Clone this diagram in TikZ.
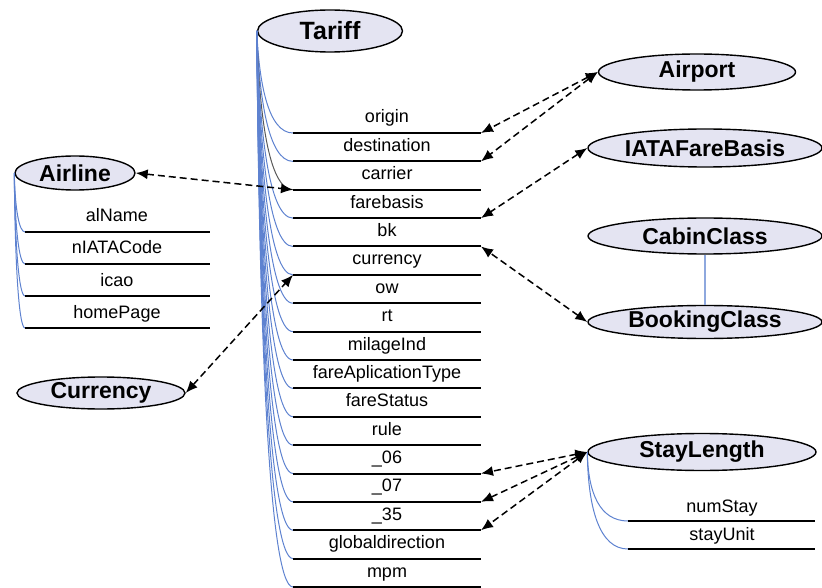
\documentclass[tikz,border=0pt]{standalone}
\usepackage{fontspec}
\setmainfont{Liberation Sans}
\usetikzlibrary{arrows.meta,shapes.geometric}
\definecolor{ellfill}{HTML}{E4E4F2}
\definecolor{treeblue}{HTML}{5E82D0}
\begin{document}
\begin{tikzpicture}[x=1pt,y=-1pt,
  cls/.style={ellipse, draw=black, line width=1.4pt, fill=ellfill, inner sep=0pt, font=\bfseries\fontsize{23}{25}\selectfont},
  attr/.style={font=\fontsize{18}{20}\selectfont, inner sep=0pt, anchor=base},
  attrline/.style={line width=2pt, draw=black},
  tree/.style={draw=treeblue, line width=1pt},
  assoc/.style={line width=1.5pt, dash pattern=on 7pt off 4pt, {Latex[length=12pt,width=10pt]}-{Latex[length=12pt,width=10pt]}}
]
\useasboundingbox (0,0) rectangle (822,588);

% Tariff
\node[cls, minimum width=145pt, minimum height=42pt, font=\bfseries\fontsize{25}{27}\selectfont] (tariff) at (330,31) {Tariff};
\foreach \n [count=\i from 0] in {origin,destination,carrier,farebasis,bk,currency,ow,rt,milageInd,fareAplicationType,fareStatus,rule,\_06,\_07,\_35,globaldirection,mpm} {
  \pgfmathsetmacro\yy{133+28.375*\i}
  \pgfmathsetmacro\cy{31+0.5*(\yy-31)}
  \coordinate (tl\i) at (293,\yy);
  \coordinate (tr\i) at (481,\yy);
  \ifnum\i=2
    \draw[tree, draw=gray!70!black] (tariff.west) .. controls (259,\cy) and (268,\yy) .. (tl\i);
  \else
    \draw[tree] (tariff.west) .. controls (259,\cy) and (268,\yy) .. (tl\i);
  \fi
  \draw[attrline] (tl\i) -- (tr\i);
  \node[attr] (ta\i) at (387,\yy-10) {\n};
}

% Airline
\node[cls, minimum width=120pt, minimum height=34pt] (airline) at (75,173) {Airline};
\foreach \n [count=\i from 0] in {alName,nIATACode,icao,homePage} {
  \pgfmathsetmacro\yy{232+32*\i}
  \pgfmathsetmacro\cy{173+0.6*(\yy-173)}
  \coordinate (al\i) at (25,\yy);
  \coordinate (ar\i) at (210,\yy);
  \draw[tree] (airline.west) .. controls (15,\cy) and (19,\yy) .. (al\i);
  \draw[attrline] (al\i) -- (ar\i);
  \node[attr] (aa\i) at (117,\yy-10) {\n};
}

% Currency
\node[cls, minimum width=168pt, minimum height=32pt] (currency) at (101,393) {Currency};

% Right-hand classes
\node[cls, minimum width=197pt, minimum height=36pt] (airport) at (697,72) {Airport};
\node[cls, minimum width=234pt, minimum height=38pt] (iata) at (705,148) {IATAFareBasis};
\node[cls, minimum width=234pt, minimum height=36pt] (cabin) at (705,236) {CabinClass};
\node[cls, minimum width=234pt, minimum height=33pt] (booking) at (705,322) {BookingClass};
\draw[treeblue!70, line width=1.2pt] (cabin.south) -- (booking.north);

% StayLength
\node[cls, minimum width=228pt, minimum height=37pt] (stay) at (702,452) {StayLength};
\foreach \n [count=\i from 0] in {numStay,stayUnit} {
  \pgfmathsetmacro\yy{521+28*\i}
  \pgfmathsetmacro\cy{452+0.6*(\yy-452)}
  \coordinate (sl\i) at (628,\yy);
  \coordinate (sr\i) at (815,\yy);
  \draw[tree] (stay.west) .. controls (588,\cy) and (600,\yy) .. (sl\i);
  \draw[attrline] (sl\i) -- (sr\i);
  \node[attr] (sa\i) at (722,\yy-9) {\n};
}

% Associations
\draw[assoc] (airport.west) -- (tr0);
\draw[assoc] (airport.west) -- (tr1);
\draw[assoc] (airline.east) -- (tl2);
\draw[assoc] (iata.west) -- (tr3);
\draw[assoc] (booking.west) -- (tr4);
\draw[assoc] (currency.east) -- (tl5);
\draw[assoc] (stay.west) -- (tr12);
\draw[assoc] (stay.west) -- (tr13);
\draw[assoc] (stay.west) -- (tr14);
\end{tikzpicture}
\end{document}
